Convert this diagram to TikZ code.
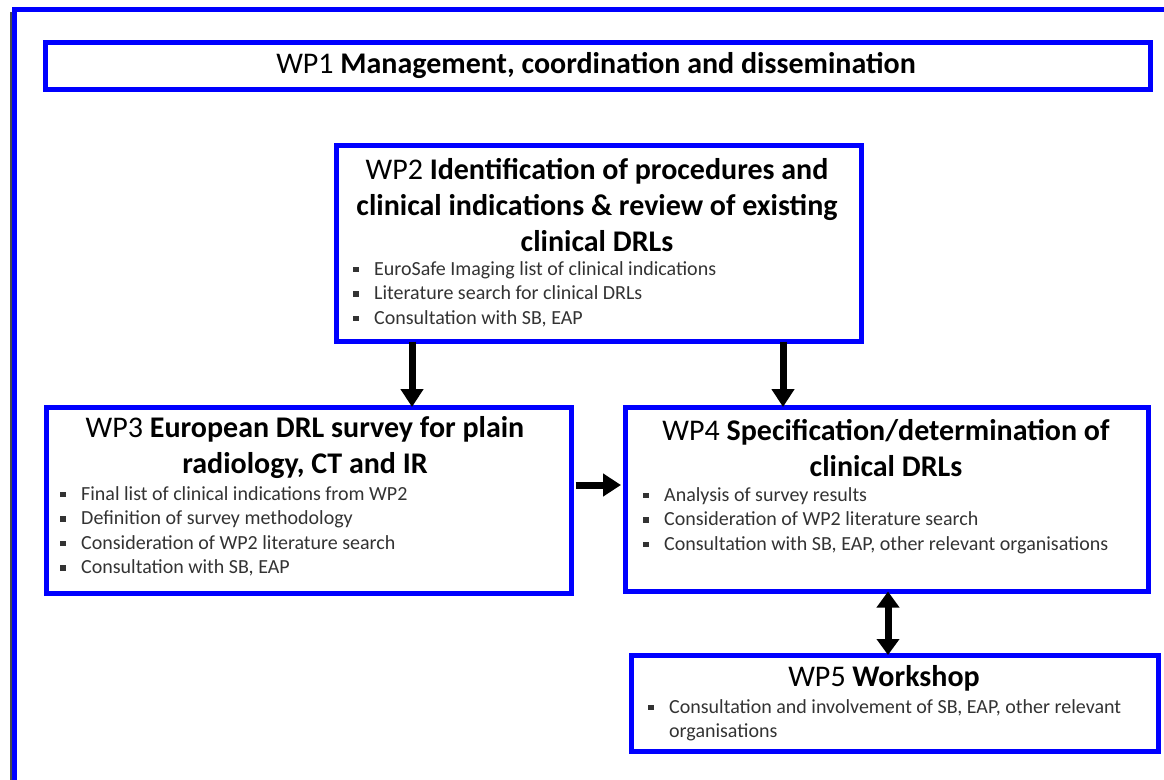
\documentclass[tikz,border=0pt]{standalone}
\usepackage{fontspec}
\setmainfont{Carlito}
\usetikzlibrary{arrows.meta,shadows}
\definecolor{bblue}{RGB}{0,0,255}
\newcommand{\bl}[1]{\makebox[21pt][l]{\rule[3pt]{5.5pt}{5.5pt}}#1}
\begin{document}
\begin{tikzpicture}[x=1pt,y=-1pt,
  wpbox/.style={draw=bblue,line width=4.5pt,fill=white,anchor=north west,inner sep=0pt,
     drop shadow={shadow xshift=1.5pt,shadow yshift=-1.5pt,opacity=.6,fill=black!70}},
  ttl/.style={font=\fontsize{30}{36}\selectfont,align=center,inner sep=0pt,anchor=center},
  bul/.style={font=\fontsize{20}{24.5}\selectfont,text=black!80,align=left,inner sep=0pt,anchor=north west},
  arr/.style={line width=7pt,-{Triangle[length=18pt,width=22pt]}},
  darr/.style={line width=7pt,{Triangle[length=16pt,width=22pt]}-{Triangle[length=16pt,width=22pt]}}]
\useasboundingbox (0,0) rectangle (1164,779);
\fill[white] (0,0) rectangle (1164,779);
% outer frame
\draw[black!70,line width=4pt] (12,12) -- (12,790);
\draw[bblue,line width=4.5pt] (14.5,800) -- (14.5,9.5) -- (1180,9.5);
% boxes
\node[wpbox,minimum width=1105pt,minimum height=47pt] (wp1) at (43,40) {};
\node[wpbox,minimum width=525pt,minimum height=196pt] (wp2) at (334,143) {};
\node[wpbox,minimum width=525pt,minimum height=186pt] (wp3) at (44,405) {};
\node[wpbox,minimum width=523pt,minimum height=184pt] (wp4) at (623,405) {};
\node[wpbox,minimum width=527pt,minimum height=96pt] (wp5) at (629,653) {};
% titles
\node[ttl] (t1) at (596,65) {WP1 \textbf{Management, coordination and dissemination}};
\node[ttl] (t2) at (597,205) {WP2 \textbf{Identification of procedures and}\\\textbf{clinical indications \& review of existing}\\\textbf{clinical DRLs}};
\node[ttl] (t3) at (305,448) {WP3 \textbf{European DRL survey for plain}\\\textbf{radiology, CT and IR}};
\node[ttl] (t4) at (886,448) {WP4 \textbf{Specification/determination of}\\\textbf{clinical DRLs}};
\node[ttl] (t5) at (884,678) {WP5 \textbf{Workshop}};
% bullets
\node[bul] (b2) at (353,261) {\bl{EuroSafe Imaging list of clinical indications}\\\bl{Literature search for clinical DRLs}\\\bl{Consultation with SB, EAP}};
\node[bul] (b3) at (60,486) {\bl{Final list of clinical indications from WP2}\\\bl{Definition of survey methodology}\\\bl{Consideration of WP2 literature search}\\\bl{Consultation with SB, EAP}};
\node[bul] (b4) at (643,487) {\bl{Analysis of survey results}\\\bl{Consideration of WP2 literature search}\\\bl{Consultation with SB, EAP, other relevant organisations}};
\node[bul] (b5) at (648,699) {\bl{Consultation and involvement of SB, EAP, other relevant}\\\hspace*{21pt}organisations};
% connectors
\coordinate (ca) at (412,0);
\coordinate (cb) at (783,0);
\coordinate (cc) at (0,485);
\coordinate (cd) at (888,0);
\draw[arr] ([yshift=2pt]wp2.south -| ca) -- ([yshift=-2pt]wp3.north -| ca);
\draw[arr] ([yshift=2pt]wp2.south -| cb) -- ([yshift=-2pt]wp4.north -| cb);
\draw[arr] ([xshift=2pt]wp3.east |- cc) -- ([xshift=-2pt]wp4.west |- cc);
\draw[darr] ([yshift=2pt]wp4.south -| cd) -- ([yshift=-2pt]wp5.north -| cd);
\end{tikzpicture}
\end{document}
